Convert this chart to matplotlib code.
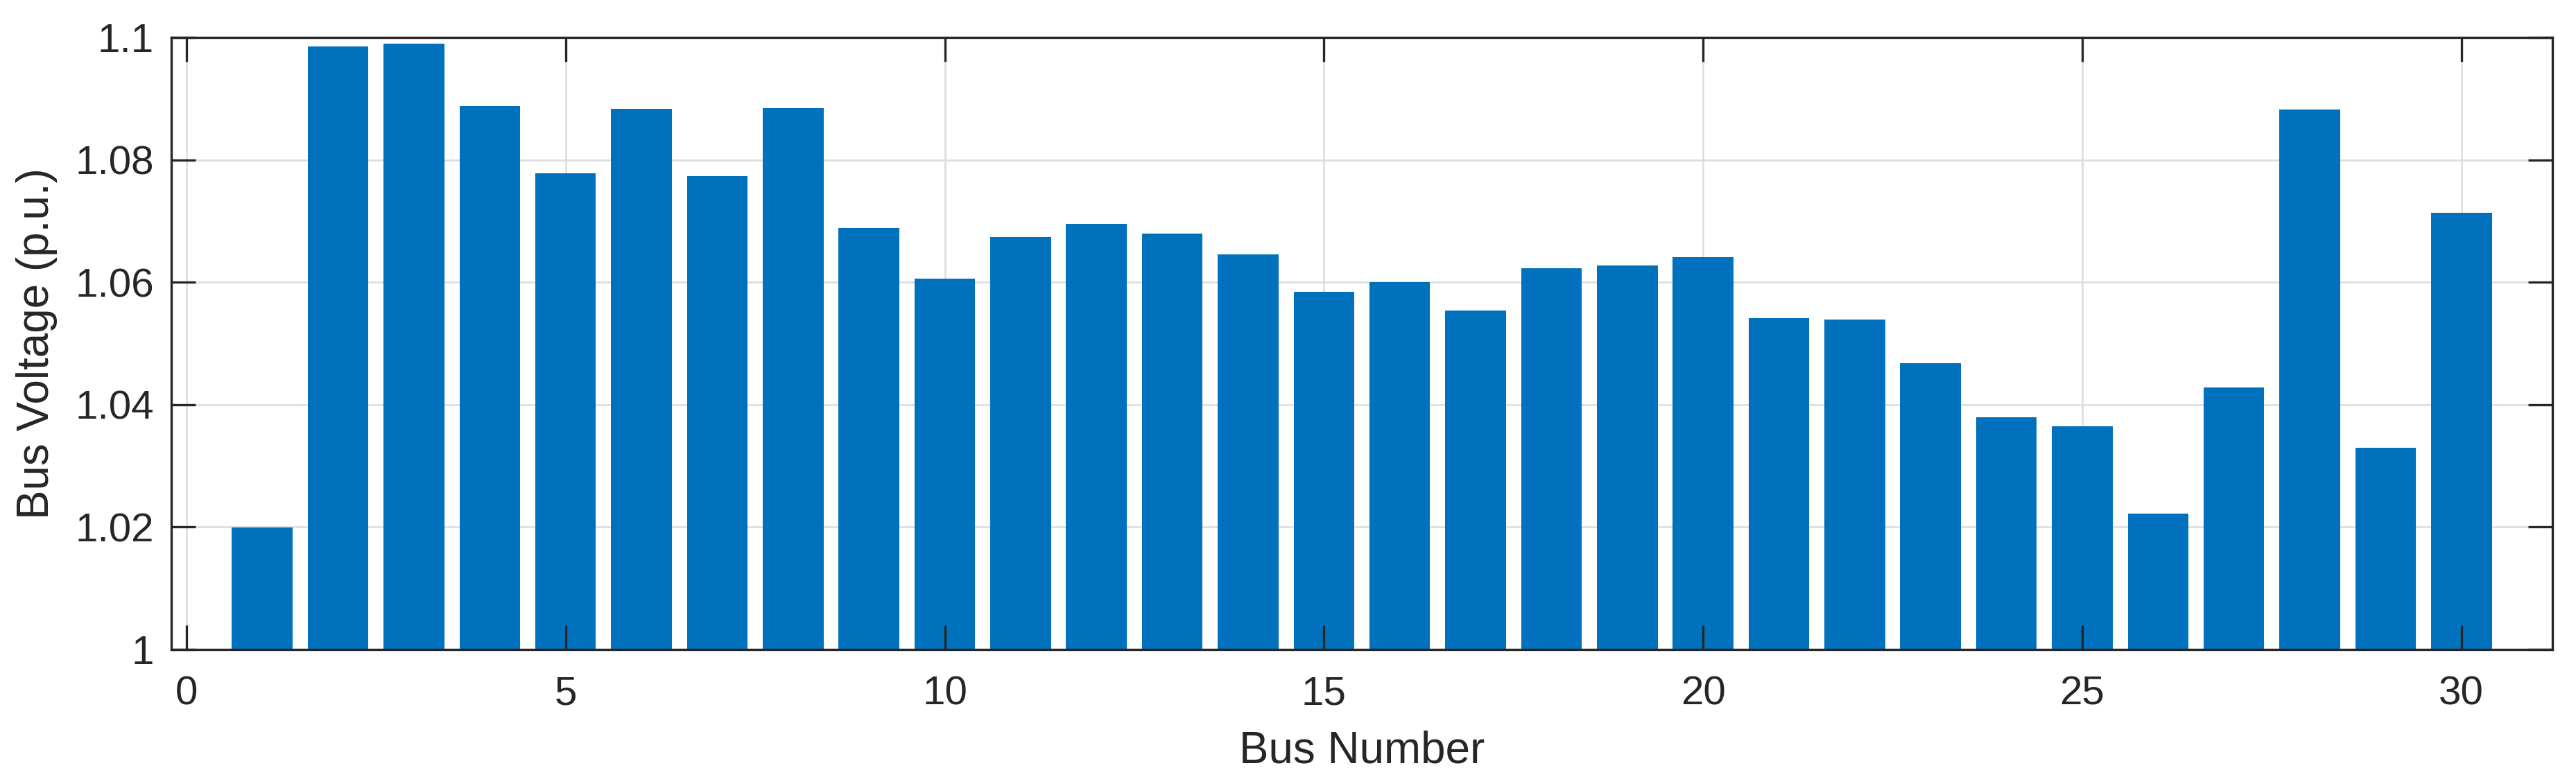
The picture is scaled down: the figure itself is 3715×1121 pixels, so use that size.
import matplotlib
matplotlib.use("Agg")
import matplotlib.pyplot as plt
from matplotlib.ticker import FuncFormatter

bus_numbers = list(range(1, 31))
bus_voltage = [1.0199, 1.0985, 1.0990, 1.0888, 1.0778, 1.0883, 1.0774, 1.0884, 1.0689, 1.0606,
               1.0674, 1.0695, 1.0680, 1.0645, 1.0584, 1.0600, 1.0554, 1.0623, 1.0627, 1.0641,
               1.0541, 1.0539, 1.0468, 1.0379, 1.0365, 1.0222, 1.0428, 1.0882, 1.0330, 1.0714]
x_ticks = [0, 5, 10, 15, 20, 25, 30]
y_ticks = [1.0, 1.02, 1.04, 1.06, 1.08, 1.1]

plt.rcParams['font.family'] = ['Liberation Sans', 'DejaVu Sans']
axis_color = '#262626'
grid_color = '#dcdcdc'

fig = plt.figure(figsize=(3715 / 300, 1121 / 300), dpi=300)
ax = fig.add_axes([247 / 3715, 1 - 937 / 1121, (3681 - 247) / 3715, (937 - 54) / 1121])

for yv in y_ticks:
    ax.axhline(yv, color=grid_color, lw=0.6, zorder=0)
for xv in x_ticks:
    ax.axvline(xv, color=grid_color, lw=0.6, zorder=0)

ax.bar(bus_numbers, [v - 1.0 for v in bus_voltage], bottom=1.0, width=0.8,
       color='#0072BD', edgecolor='none', zorder=1)

ax.set_xlim(-0.2, 31.2)
ax.set_ylim(1.0, 1.1)
ax.set_xticks(x_ticks)
ax.set_yticks(y_ticks)
ax.yaxis.set_major_formatter(FuncFormatter(lambda v, p: f"{v:g}"))

ax.tick_params(axis='both', which='both', direction='in', top=True, right=True,
               length=8.4, width=0.8, color=axis_color, labelcolor=axis_color,
               labelsize=14, zorder=3)
ax.tick_params(axis='y', pad=6)
ax.tick_params(axis='x', pad=9)
for s in ax.spines.values():
    s.set_linewidth(0.8)
    s.set_color(axis_color)
    s.set_zorder(3)

ax.set_xlabel('Bus Number', fontsize=15.3, color=axis_color, labelpad=6)
ax.set_ylabel('Bus Voltage (p.u.)', fontsize=15.3, color=axis_color, labelpad=6)

fig.savefig('out.png', dpi=300)
